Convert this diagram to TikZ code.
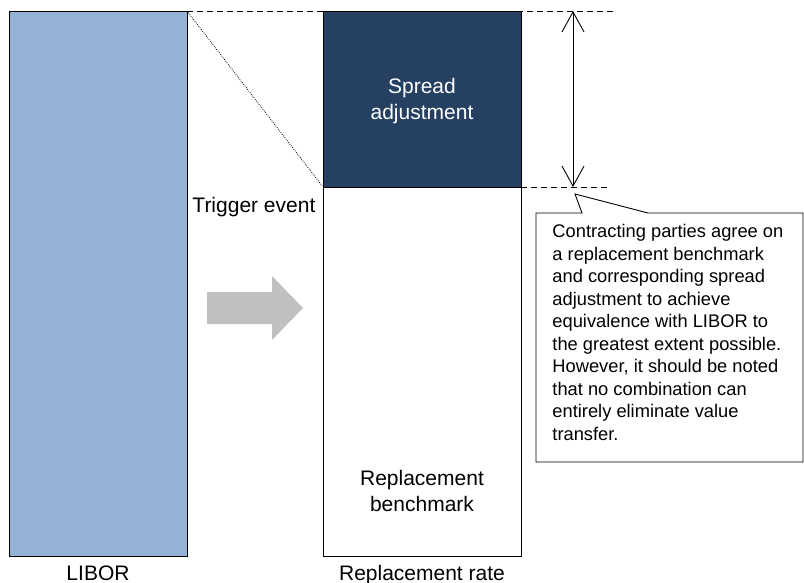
\documentclass[tikz,border=0pt]{standalone}
\usepackage{fontspec}
\setmainfont{Liberation Sans}
\usetikzlibrary{arrows.meta}
\definecolor{liborblue}{RGB}{149,179,215}
\definecolor{spreadnavy}{RGB}{37,64,97}
\definecolor{arrowgray}{RGB}{192,192,192}
\newcommand{\labelfont}{\fontsize{21}{25.8}\selectfont}
\newcommand{\notefont}{\fontsize{18.3}{22.5}\selectfont}
\newcommand{\barlabel}[3] % name, x, text
{
	\node[anchor=base, font=\labelfont] (#1) at (#2,580) {#3};
}
\tikzset{
	guide/.style={dash pattern=on 6pt off 4pt},
	fine dots/.style={line width=0.8pt, dash pattern=on 0.8pt off 1.3pt},
	barb/.style={{Straight Barb[length=20pt,width=22pt]}-{Straight Barb[length=20pt,width=22pt]}}
}
\begin{document}
\begin{tikzpicture}[x=1pt, y=-1pt, line width=0.9pt, every node/.style={inner sep=0pt}]
	% page 804 x 583
	\useasboundingbox (0,0) rectangle (804,583);
	% bars
	\draw[fill=liborblue] (9,11) rectangle (187,556);
	\draw[fill=spreadnavy] (323,11) rectangle (521,187);
	\draw[fill=white] (323,187) rectangle (521,556);
	% guide points
	\coordinate (libortop) at (187,11);
	\coordinate (spreadbot) at (323,187);
	\coordinate (rateright) at (521,187);
	\coordinate (topend) at (615,11);
	\coordinate (botend) at (607,187);
	\coordinate (arrowtop) at (573,11);
	\coordinate (arrowbot) at (573,187);
	% guide lines
	\draw[guide] (libortop) -- (topend);
	\draw[guide] (rateright) -- (botend);
	\draw[fine dots] (libortop) -- (spreadbot);
	\draw[barb] (arrowtop) -- (arrowbot);
	% grey block arrow
	\fill[arrowgray] (207,292) -- (272,292) -- (272,276) -- (303,308)
		-- (272,340) -- (272,324) -- (207,324) -- cycle;
	% callout
	\draw[fill=white] (536,213) -- (582,213) -- (575,194) -- (648,213)
		-- (803,213) -- (803,462) -- (536,462) -- cycle;
	\node[anchor=north west, align=left, font=\notefont] (note) at (552,224)
		{Contracting parties agree on\\
		a replacement benchmark\\
		and corresponding spread\\
		adjustment to achieve\\
		equivalence with LIBOR to\\
		the greatest extent possible.\\
		However, it should be noted\\
		that no combination can\\
		entirely eliminate value\\
		transfer.};
	% texts
	\node[anchor=north, align=center, font=\labelfont, text=white] (spread) at (422,78)
		{Spread\\adjustment};
	\node[anchor=north, align=center, font=\labelfont] (bench) at (422,470)
		{Replacement\\benchmark};
	\node[anchor=base west, font=\labelfont] (trigger) at (192,213) {Trigger event};
	\barlabel{libor}{98}{LIBOR};
	\barlabel{rate}{422}{Replacement rate};
\end{tikzpicture}
\end{document}
